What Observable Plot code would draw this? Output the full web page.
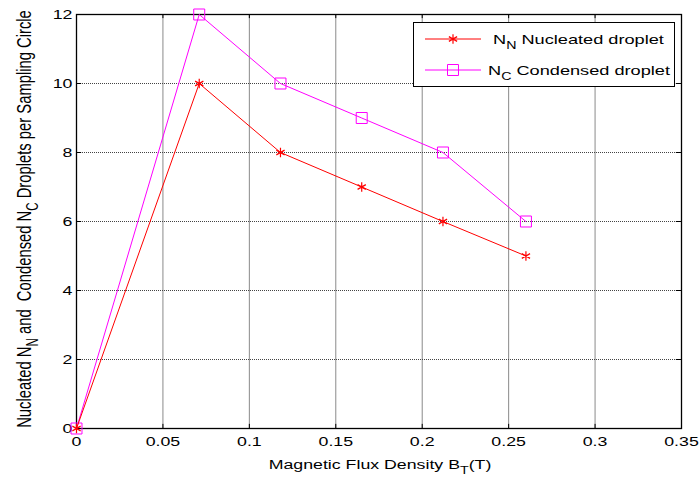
<!DOCTYPE html>
<html><head><meta charset="utf-8">
<script src="https://cdn.jsdelivr.net/npm/d3@7"></script>
<script src="https://cdn.jsdelivr.net/npm/@observablehq/plot@0.6"></script>
<style>
body{margin:0;background:#fff;font-family:"Liberation Sans",Arial,sans-serif;}
#wrap{position:relative;width:700px;height:477px;}
#legend{position:absolute;left:413px;top:22px;width:260px;height:63px;border:1px solid #000;background:#fff;font-size:12.8px;}
.row{position:absolute;display:flex;align-items:center;height:20px;}
.lbl{display:inline-block;transform:scaleX(1.42);transform-origin:left center;white-space:nowrap;}
sub{font-size:10px;vertical-align:-5px;line-height:0;}
</style></head>
<body><div id="wrap"><div id="legend"></div></div>
<script>
const xValues = [0, 0.071, 0.118, 0.165, 0.212, 0.26];
const nucleated = [0, 10, 8, 7, 6, 5];
const condensed = [0, 12, 10, 9, 8, 6];
const xTicks = [0, 0.05, 0.1, 0.15, 0.2, 0.25, 0.3, 0.35];
const yTicks = [0, 2, 4, 6, 8, 10, 12];

const dataN = xValues.map((x, i) => ({x, y: nucleated[i]}));
const dataC = xValues.map((x, i) => ({x, y: condensed[i]}));
const chart = Plot.plot({
  width: 700, height: 477,
  marginLeft: 76, marginRight: 19, marginTop: 14, marginBottom: 49,
  style: {fontFamily: "Liberation Sans, Arial, sans-serif", fontSize: "12.5px", color: "#000", background: "#fff"},
  x: {domain: [0, 0.35]},
  y: {domain: [0, 12]},
  marks: [
    Plot.gridX(xTicks, {stroke: "#8a8a8a", strokeOpacity: 1, strokeWidth: 1}),
    Plot.gridY(yTicks, {stroke: "#444", strokeOpacity: 1, strokeDasharray: "1,1", strokeWidth: 1}),
    Plot.axisX(xTicks, {tickSize: 0, tickPadding: 9, label: null, tickFormat: d => String(d), fontSize: 12.5}),
    Plot.axisY(yTicks, {tickSize: 0, tickPadding: 4, label: null, tickFormat: d => String(d), fontSize: 12.5}),
    Plot.ruleX(xTicks, {x: d => d, y1: 0, y2: 0.12, stroke: "#000"}),
    Plot.ruleX(xTicks, {x: d => d, y1: 11.88, y2: 12, stroke: "#000"}),
    Plot.ruleY(yTicks, {y: d => d, x1: 0, x2: 0.003, stroke: "#000"}),
    Plot.ruleY(yTicks, {y: d => d, x1: 0.347, x2: 0.35, stroke: "#000"}),
    Plot.frame({stroke: "#000", strokeWidth: 1.3}),
    Plot.line(dataC, {x: "x", y: "y", stroke: "#ff00ff", strokeWidth: 1}),
    Plot.dot(dataC, {x: "x", y: "y", symbol: "square", r: 6.2, stroke: "#ff00ff", fill: "none", strokeWidth: 1}),
    Plot.line(dataN, {x: "x", y: "y", stroke: "#ff0000", strokeWidth: 1}),
    Plot.dot(dataN, {x: "x", y: "y", symbol: "asterisk", r: 4.5, stroke: "#ff0000", strokeWidth: 1.2})
  ]
});
const wrap = document.getElementById("wrap");
wrap.insertBefore(chart, wrap.firstChild);
chart.style.position = "absolute"; chart.style.left = "0"; chart.style.top = "0";

const svg = d3.select(chart);
// stretch tick labels horizontally like the reference
svg.selectAll("g[aria-label$='tick label'] text").each(function() {
  const t = this.getAttribute("transform") || "";
  this.setAttribute("transform", t + " scale(1.42,1)");
});
// x label
const xl = svg.append("text").attr("transform", "translate(380,469) scale(1.42,1)").attr("text-anchor", "middle")
  .attr("font-size", 12.5).attr("fill", "#000");
xl.append("tspan").text("Magnetic Flux Density B");
xl.append("tspan").attr("font-size", 10).attr("dy", 5).text("T");
xl.append("tspan").attr("dy", -5).text("(T)");
// y label
const yl = svg.append("text").attr("transform", "translate(31,219) rotate(-90) scale(1,1.42)").attr("text-anchor", "middle")
  .attr("font-size", 14.8).attr("fill", "#000");
yl.append("tspan").text("Nucleated N");
yl.append("tspan").attr("font-size", 11.5).attr("dy", 5).text("N");
yl.append("tspan").attr("dy", -5).text(" and  Condensed N");
yl.append("tspan").attr("font-size", 11.5).attr("dy", 5).text("C");
yl.append("tspan").attr("dy", -5).text(" Droplets per Sampling Circle");

// legend
const legend = document.getElementById("legend");
const entries = [
  {sub: "N", label: " Nucleated droplet", color: "#ff0000", sym: "asterisk", top: 6, textLeft: 79},
  {sub: "C", label: " Condensed droplet", color: "#ff00ff", sym: "square", top: 37, textLeft: 74}
];
for (const e of entries) {
  const row = document.createElement("div");
  row.className = "row"; row.style.top = e.top + "px"; row.style.left = "11px";
  const s = d3.create("svg").attr("width", e.textLeft - 11).attr("height", 20).style("flex", "none");
  s.append("line").attr("x1", 0).attr("x2", 56).attr("y1", 10).attr("y2", 10).attr("stroke", e.color);
  const sym = e.sym === "square" ? d3.symbolSquare : d3.symbolAsterisk;
  const r = e.sym === "square" ? 6.2 : 4.5;
  s.append("path").attr("transform", "translate(28,10)").attr("d", d3.symbol(sym, r * r * Math.PI)())
    .attr("fill", "none").attr("stroke", e.color).attr("stroke-width", e.sym === "square" ? 1 : 1.2);
  row.appendChild(s.node());
  const t = document.createElement("span");
  t.className = "lbl";
  t.innerHTML = "N<sub>" + e.sub + "</sub>" + e.label;
  row.appendChild(t);
  legend.appendChild(row);
}
</script></body></html>
